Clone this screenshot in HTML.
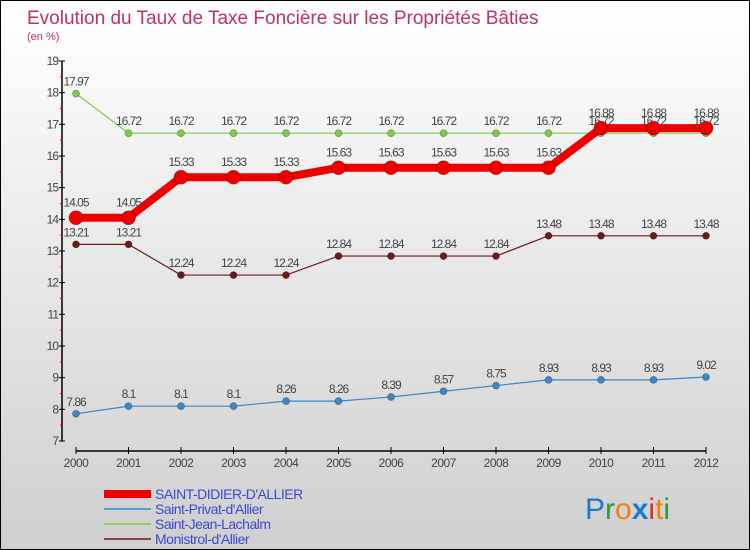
<!DOCTYPE html>
<html><head><meta charset="utf-8"><style>
body{margin:0}
#c{width:750px;height:550px;position:relative;box-sizing:border-box;border:1px solid #000;background:linear-gradient(#fff,#cfcfcf);font-family:"Liberation Sans",sans-serif;overflow:hidden}
svg text{font-family:"Liberation Sans",sans-serif}
</style></head><body>
<div id="c">
<svg id="s" width="750" height="550">
<text x="26" y="23" font-size="19" fill="#c0306a">Evolution du Taux de Taxe Foncière sur les Propriétés Bâties</text>
<text x="26" y="39" font-size="11" fill="#c0306a">(en %)</text>
<g id="g"></g>
<text x="584" y="518" font-size="30" font-family="Liberation Sans"><tspan fill="#1a7ad0">P</tspan><tspan fill="#2a9a3a">r</tspan><tspan fill="#f08010">o</tspan><tspan fill="#1a7ad0" font-weight="bold">x</tspan><tspan fill="#e03020">i</tspan><tspan fill="#f08010">t</tspan><tspan fill="#2a9a3a">i</tspan></text>
</svg>
</div>
<script>
const years=[2000,2001,2002,2003,2004,2005,2006,2007,2008,2009,2010,2011,2012];
const sStDidier=[14.05,14.05,15.33,15.33,15.33,15.63,15.63,15.63,15.63,15.63,16.88,16.88,16.88];
const sStPrivat=[7.86,8.1,8.1,8.1,8.26,8.26,8.39,8.57,8.75,8.93,8.93,8.93,9.02];
const sStJean=[17.97,16.72,16.72,16.72,16.72,16.72,16.72,16.72,16.72,16.72,16.72,16.72,16.72];
const sMonistrol=[13.21,13.21,12.24,12.24,12.24,12.84,12.84,12.84,12.84,13.48,13.48,13.48,13.48];
const yTicks=[7,8,9,10,11,12,13,14,15,16,17,18,19];
const seriesNames=["SAINT-DIDIER-D'ALLIER","Saint-Privat-d'Allier","Saint-Jean-Lachalm","Monistrol-d'Allier"];
const NS="http://www.w3.org/2000/svg";
const g=document.getElementById('g');
const X=i=>75+i*52.5;
const Y=v=>440-(v-7)*31.667;
function el(t,a,p){const e=document.createElementNS(NS,t);for(const k in a)e.setAttribute(k,a[k]);(p||g).appendChild(e);return e;}
let e;
e=el('line',{x1:61,y1:60,x2:61,y2:440,stroke:'#000','stroke-width':1.5});


e=el('line',{x1:75,y1:450,x2:705,y2:450,stroke:'#000','stroke-width':1.5});


yTicks.forEach(v=>{
 el('line',{x1:58,x2:64,y1:Y(v),y2:Y(v),stroke:'#000'});
 if(v<19) el('line',{x1:59,x2:62,y1:Y(v+0.5),y2:Y(v+0.5),stroke:'#e00'});
 e=el('text',{x:57,y:Y(v)+4,'text-anchor':'end','font-size':12,fill:'#444','letter-spacing':'-1'});e.textContent=v;
 
 
});
years.forEach((y,i)=>{
 el('line',{x1:X(i),x2:X(i),y1:446,y2:453,stroke:'#000'});
 e=el('text',{x:X(i),y:466,'text-anchor':'middle','font-size':12,fill:'#444','letter-spacing':'-0.5'});e.textContent=y;
 
 
});
function series(d,color,w,r,name,dy){
 const pl=el('polyline',{points:d.map((v,i)=>X(i)+','+Y(v)).join(' '),fill:'none',stroke:color,'stroke-width':w});
 
 
 d.forEach((v,i)=>{
  const c=el('circle',{cx:X(i),cy:Y(v),r:r,fill:color,stroke:'rgba(0,0,0,0.3)','stroke-width':0.8});
  
  
  const t=el('text',{x:X(i),y:Y(v)-dy,'text-anchor':'middle','font-size':12,fill:'#444','letter-spacing':'-1'});t.textContent=v;
  
  
 });
}
series(sStJean,'#7ccc48',1.2,3.5,'saint-jean',8);
series(sMonistrol,'#6a1a1a',1.2,3.5,'monistrol',8);
series(sStPrivat,'#3a88c8',1.2,3.5,'saint-privat',8);
series(sStDidier,'#ee0000',8,7,'saint-didier',11);
const lc=['#ee0000','#3a88c8','#7ccc48','#6a1a1a'],lw=[8,1.5,1.5,1.5];
seriesNames.forEach((n,i)=>{
 const y=493+i*15;
 e=el('line',{x1:103,x2:150,y1:y,y2:y,stroke:lc[i],'stroke-width':lw[i]});
 
 
 e=el('text',{x:154,y:y+5,'font-size':14,fill:'#3a4ad0','letter-spacing':'-0.5'});e.textContent=n;
 
 
});
</script>
</body></html>
